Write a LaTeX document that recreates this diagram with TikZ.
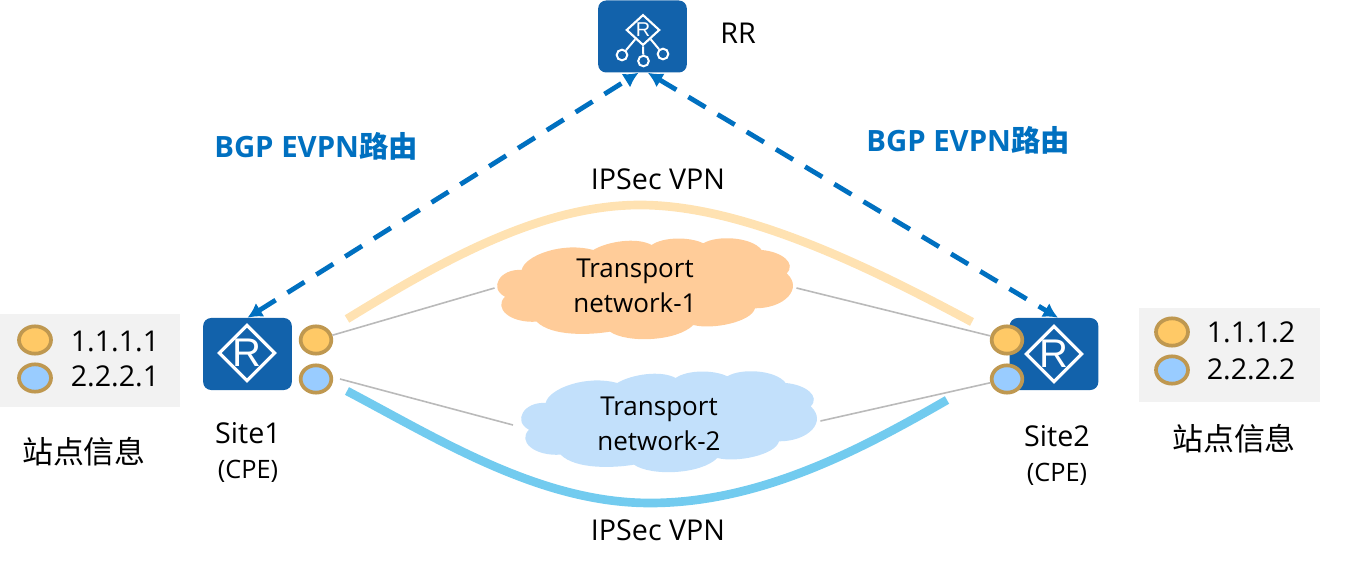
\documentclass[tikz,border=0pt]{standalone}
\usepackage{fontspec}
\setmainfont{Open Sans}
\newfontfamily\cjk{Noto Sans CJK SC}
\usetikzlibrary{shapes.geometric,arrows.meta}
\definecolor{routerblue}{HTML}{1262AB}
\definecolor{bgpblue}{HTML}{0070C0}
\definecolor{dotedge}{HTML}{BF9850}
\definecolor{dotorange}{HTML}{FFC966}
\definecolor{dotblue}{HTML}{99CCFF}
\definecolor{cloudorange}{HTML}{FFCC99}
\definecolor{cloudblue}{HTML}{C2E0FB}
\definecolor{tunnelorange}{HTML}{FFE2B2}
\definecolor{tunnelblue}{HTML}{72CBEF}
\definecolor{boxgrey}{HTML}{F2F2F2}
\tikzset{
  router/.style={draw=none,fill=routerblue,rounded corners=6pt,minimum width=66.5pt,minimum height=54pt,inner sep=0pt},
  rhomb/.style={shape=diamond,draw=white,line width=2.4pt,minimum width=41pt,minimum height=41pt,inner sep=0pt,text=white,font=\fontspec{Liberation Sans}\fontsize{30}{30}\selectfont},
  dotA/.style={shape=ellipse,draw=dotedge,fill=dotorange,line width=2.8pt,minimum width=23pt,minimum height=20.5pt,inner sep=0pt},
  dotB/.style={dotA,fill=dotblue},
  word/.style={inner sep=0pt,font=\fontsize{21.5}{26}\selectfont},
  netword/.style={inner sep=0pt,align=center,font=\fontsize{19.5}{26}\selectfont},
  small/.style={inner sep=0pt,font=\fontsize{19}{22}\selectfont},
  info/.style={inner sep=0pt,font=\cjk\fontsize{23.2}{26}\selectfont},
  bgp/.style={inner sep=0pt,text=bgpblue,font=\bfseries\fontsize{22}{24}\selectfont},
  lnk/.style={draw=black!27,line width=1.2pt},
  bgpline/.style={draw=bgpblue,line width=3.6pt,dash pattern=on 15pt off 10.5pt,{Latex[length=11pt,width=12pt]}-{Latex[length=11pt,width=12pt]}},
  netbox/.style={inner sep=0pt,minimum width=226pt,minimum height=76pt}
}
\newcommand{\cloudshape}{(125,135) .. controls (135,90) and (250,50) .. (340,75)
  .. controls (380,50) and (470,35) .. (515,60)
  .. controls (550,35) and (630,35) .. (670,55)
  .. controls (710,30) and (815,35) .. (845,75)
  .. controls (905,80) and (950,115) .. (920,145)
  .. controls (970,190) and (915,250) .. (825,250)
  .. controls (815,290) and (700,315) .. (640,300)
  .. controls (590,350) and (440,355) .. (390,320)
  .. controls (330,330) and (215,335) .. (170,290)
  .. controls (90,295) and (40,250) .. (75,215)
  .. controls (25,190) and (60,130) .. (125,135) -- cycle}
\begin{document}
\begin{tikzpicture}[x=0.75pt,y=-0.75pt]
\useasboundingbox (0,0) rectangle (1357,570);
% info boxes
\fill[boxgrey] (0,314) rectangle (180,407);
\fill[boxgrey] (1139,308) rectangle (1320,402);
% tunnels
\coordinate (t1a) at (347,319);
\coordinate (t1m) at (640,205);
\coordinate (t1b) at (972,322);
\coordinate (t2a) at (347,391);
\coordinate (t2m) at (650,503);
\coordinate (t2b) at (947,400);
\draw[tunnelorange,line width=6.5pt] (t1a) .. controls (440,262) and (540,205) .. (t1m) .. controls (740,205) and (860,262) .. (t1b);
\draw[tunnelblue,line width=6.5pt] (t2a) .. controls (440,440) and (540,503) .. (t2m) .. controls (760,503) and (860,450) .. (t2b);
% clouds
\fill[cloudorange,shift={(480,225)},x=0.25pt,y=-0.25pt] \cloudshape;
\fill[cloudblue,shift={(504,358)},x=0.25pt,y=-0.25pt] \cloudshape;
\node[netbox] (net_1) at (645.5,288) {};
\node[netbox] (net_2) at (669.5,421) {};
\node[netword] (net_1_txt) at (635,286) {Transport\\network-1};
\node[netword] (net_2_txt) at (659,424) {Transport\\network-2};
% routers
\node[router] (RR) at (642.5,36.5) {};
\node[router] (Site_1) at (247.5,354) {};
\node[router] (Site_2) at (1054,354) {};
\node[rhomb] (R_1) at (247,353) {R};
\node[rhomb] (R_2) at (1054,354) {R};
\node[rhomb,line width=1.6pt,minimum width=25pt,minimum height=23pt,font=\fontspec{Liberation Sans}\fontsize{15}{15}\selectfont] (R_0) at (643,30) {R};
\begin{scope}[shape=circle,minimum size=8pt,inner sep=0pt]
\tikzstyle{every node}=[draw=white,line width=1.5pt]
\node (c_1) at (622,55) {};
\node (c_2) at (643.5,61) {};
\node (c_3) at (663,54) {};
\end{scope}
\draw[white,line width=1.5pt] (R_0) -- (c_1);
\draw[white,line width=1.5pt] (R_0.south) -- (c_2);
\draw[white,line width=1.5pt] (R_0) -- (c_3);
% ports
\node[dotA] (p_1) at (316,340) {};
\node[dotB] (p_2) at (316,379) {};
\node[dotA] (p_3) at (1007,340) {};
\node[dotB] (p_4) at (1007,379) {};
% grey links
\coordinate (g_1) at (340,379);
\coordinate (g_2) at (513,425);
\draw[lnk] (p_1) -- (net_1.west);
\draw[lnk] (net_1.east) -- (p_3);
\draw[lnk] (g_1) -- (g_2);
\draw[lnk] (net_2.east) -- (p_4);
% bgp
\draw[bgpline] (Site_1.north) -- ([xshift=-3pt]RR.south);
\draw[bgpline] ([xshift=4pt]RR.south) -- ([xshift=3pt]Site_2.north);
% legend
\node[dotA,minimum width=24pt] (l_1) at (35,340) {};
\node[dotB,minimum width=24pt] (l_2) at (35,378) {};
\node[dotA,minimum width=24pt] (l_3) at (1172,332) {};
\node[dotB,minimum width=24pt] (l_4) at (1172,370) {};
\node[word] (a_1) at (115,341) {1.1.1.1};
\node[word] (a_2) at (115,376) {2.2.2.1};
\node[word] (a_3) at (1251,332) {1.1.1.2};
\node[word] (a_4) at (1251,369) {2.2.2.2};
\node[info] (i_1) at (84,452) {站点信息};
\node[info] (i_2) at (1234,439) {站点信息};
% labels
\node[word] (n_1) at (248,433) {Site1};
\node[small] (n_2) at (248,471) {(CPE)};
\node[word] (n_3) at (1057,436) {Site2};
\node[small] (n_4) at (1057,474) {(CPE)};
\node[word] (n_5) at (738,33) {RR};
\node[word] (v_1) at (658,179) {IPSec VPN};
\node[word] (v_2) at (658,530) {IPSec VPN};
\node[bgp] (b_1) at (316,146) {BGP EVPN{\cjk\bfseries 路由}};
\node[bgp] (b_2) at (968,140) {BGP EVPN{\cjk\bfseries 路由}};
\end{tikzpicture}
\end{document}
